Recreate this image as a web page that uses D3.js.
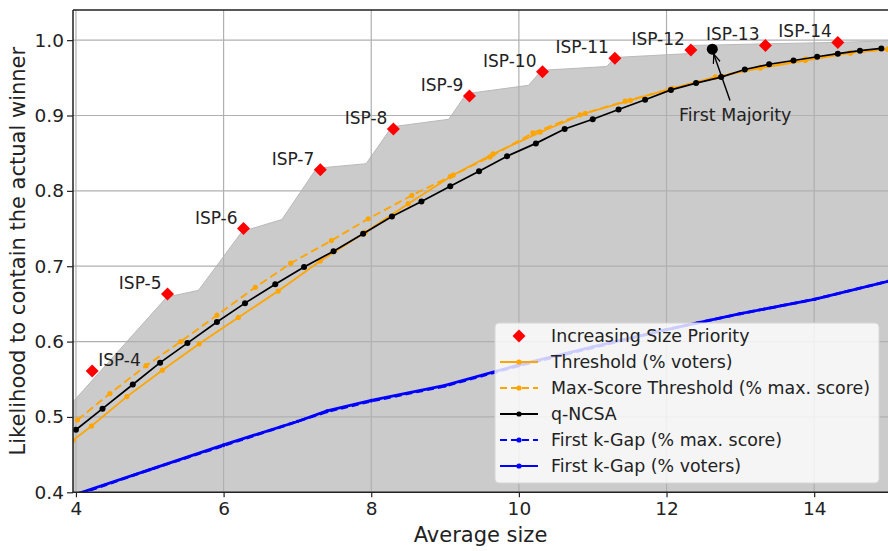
<!DOCTYPE html>
<html>
<head>
<meta charset="utf-8">
<script src="https://cdn.jsdelivr.net/npm/d3@7"></script>
<style>
  body { margin: 0; background: #fff; }
  text { font-family: "DejaVu Sans", sans-serif; fill: #222; }
</style>
</head>
<body>
<div id="wrap"></div>
<script>
// ISP points (red diamonds)
const ispLabels = ["ISP-4", "ISP-5", "ISP-6", "ISP-7", "ISP-8", "ISP-9", "ISP-10", "ISP-11", "ISP-12", "ISP-13", "ISP-14"];
const ispX = [4.22, 5.24, 6.27, 7.31, 8.30, 9.33, 10.32, 11.30, 12.33, 13.34, 14.32];
const ispY = [0.561, 0.663, 0.750, 0.828, 0.882, 0.926, 0.958, 0.976, 0.987, 0.993, 0.997];

// upper edge of the grey area
const bandX = [3.96, 5.23, 5.66, 6.25, 6.79, 7.26, 7.93, 8.28, 9.05, 9.29, 10.13, 10.31, 11.19, 11.30, 12.27, 12.36, 13.30, 14.30, 15.00];
const bandY = [0.520, 0.659, 0.668, 0.746, 0.762, 0.830, 0.836, 0.885, 0.895, 0.929, 0.940, 0.960, 0.965, 0.977, 0.982, 0.993, 0.995, 0.997, 0.999];

// Threshold (% voters)
const thrX = [3.96, 4.21, 4.69, 5.17, 5.67, 6.20, 6.74, 7.31, 7.92, 8.50, 9.11, 9.65, 10.29, 10.90, 11.51, 12.08, 12.66, 13.27, 13.88, 14.49, 15.00];
const thrY = [0.469, 0.488, 0.527, 0.562, 0.597, 0.632, 0.667, 0.707, 0.745, 0.783, 0.821, 0.849, 0.878, 0.903, 0.920, 0.936, 0.951, 0.963, 0.973, 0.983, 0.988];

// Max-Score Threshold (% max. score)
const msX = [4.02, 4.46, 4.95, 5.42, 5.91, 6.43, 6.91, 7.46, 7.96, 8.55, 9.07, 9.61, 10.19, 10.83, 11.44, 12.05, 12.66, 13.27, 13.88, 14.49, 15.00];
const msY = [0.496, 0.531, 0.568, 0.600, 0.635, 0.672, 0.704, 0.734, 0.763, 0.794, 0.819, 0.845, 0.877, 0.901, 0.919, 0.935, 0.951, 0.964, 0.975, 0.983, 0.988];

// q-NCSA
const ncsaX = [4.00, 4.36, 4.77, 5.14, 5.51, 5.91, 6.29, 6.70, 7.09, 7.49, 7.89, 8.28, 8.68, 9.07, 9.46, 9.84, 10.23, 10.62, 11.00, 11.35, 11.71, 12.06, 12.40, 12.74, 13.06, 13.39, 13.72, 14.04, 14.32, 14.62, 14.91];
const ncsaY = [0.483, 0.511, 0.543, 0.572, 0.598, 0.626, 0.651, 0.676, 0.699, 0.720, 0.743, 0.766, 0.786, 0.806, 0.826, 0.846, 0.863, 0.882, 0.895, 0.908, 0.921, 0.934, 0.943, 0.951, 0.961, 0.968, 0.973, 0.978, 0.982, 0.986, 0.989];

// First k-Gap (% max. score) / (% voters)
const gapX = [4.05, 5.00, 6.00, 7.00, 7.40, 8.00, 9.00, 10.00, 11.00, 12.00, 13.00, 14.00, 15.00];
const gapMsY = [0.398, 0.430, 0.462, 0.494, 0.507, 0.521, 0.541, 0.568, 0.592, 0.616, 0.637, 0.656, 0.680];
const gapVY = [0.399, 0.430, 0.463, 0.494, 0.508, 0.522, 0.542, 0.569, 0.593, 0.616, 0.637, 0.656, 0.680];

// First Majority
const majX = 12.62;
const majY = 0.988;

const xTicks = [4, 6, 8, 10, 12, 14];
const yTicks = [0.4, 0.5, 0.6, 0.7, 0.8, 0.9, 1.0];

chart();
function chart(){
  const WIDTH = 888;
  const HEIGHT = 551;
  const LEFT = 73, RIGHT = 888, TOP = 10, BOTTOM = 492.3;

  const svg = d3.select('#wrap')
    .append('svg')
    .attr('width', WIDTH)
    .attr('height', HEIGHT);

  const xScale = d3.scaleLinear().domain([3.96, 15.0]).range([LEFT, RIGHT]);
  const yScale = d3.scaleLinear().domain([0.4, 1.04]).range([BOTTOM, TOP]);

  svg.append('clipPath').attr('id', 'plot')
    .append('rect')
    .attr('x', LEFT).attr('y', TOP)
    .attr('width', RIGHT - LEFT).attr('height', BOTTOM - TOP);

  const plot = svg.append('g').attr('clip-path', 'url(#plot)');

  // grey area
  const band = bandX.map((x, i) => [x, bandY[i]]);
  plot.append('path')
    .attr('d', d3.area().x(d => xScale(d[0])).y0(BOTTOM).y1(d => yScale(d[1]))(band))
    .attr('fill', '#cbcbcb');
  plot.append('path')
    .attr('d', d3.line().x(d => xScale(d[0])).y(d => yScale(d[1]))(band))
    .attr('fill', 'none')
    .attr('stroke', '#b9b9b9')
    .attr('stroke-width', 1);

  // grid
  plot.selectAll('.gx').data(xTicks).enter().append('line')
    .attr('x1', d => xScale(d)).attr('x2', d => xScale(d))
    .attr('y1', TOP).attr('y2', BOTTOM)
    .attr('stroke', '#b0b0b0').attr('stroke-width', 1.2);
  plot.selectAll('.gy').data(yTicks).enter().append('line')
    .attr('x1', LEFT).attr('x2', RIGHT)
    .attr('y1', d => yScale(d)).attr('y2', d => yScale(d))
    .attr('stroke', '#b0b0b0').attr('stroke-width', 1.2);

  // series
  const series = [
    { xs: gapX, ys: gapVY, color: '#0000ff', dash: null, width: 2.8, r: 1.6 },
    { xs: gapX, ys: gapMsY, color: '#0000ff', dash: '7,4', width: 2.8, r: 1.6 },
    { xs: thrX, ys: thrY, color: '#ffa500', dash: null, width: 1.8, r: 2.6 },
    { xs: msX, ys: msY, color: '#ffa500', dash: '8,4', width: 1.9, r: 2.6 },
    { xs: ncsaX, ys: ncsaY, color: '#000000', dash: null, width: 1.7, r: 3 }
  ];
  const line = d3.line().x(d => xScale(d[0])).y(d => yScale(d[1]));
  series.forEach(s => {
    const pts = s.xs.map((x, i) => [x, s.ys[i]]);
    plot.append('path')
      .attr('d', line(pts))
      .attr('fill', 'none')
      .attr('stroke', s.color)
      .attr('stroke-width', s.width)
      .attr('stroke-dasharray', s.dash);
    plot.append('g').selectAll('circle').data(pts).enter().append('circle')
      .attr('cx', d => xScale(d[0])).attr('cy', d => yScale(d[1]))
      .attr('r', s.r).attr('fill', s.color);
  });

  // ISP diamonds and labels
  const isp = ispX.map((x, i) => ({ x: x, y: ispY[i], label: ispLabels[i] }));
  svg.append('g').selectAll('path').data(isp).enter().append('path')
    .attr('d', 'M0,-6.5L6.5,0L0,6.5L-6.5,0Z')
    .attr('transform', d => 'translate(' + xScale(d.x) + ',' + yScale(d.y) + ')')
    .attr('fill', '#ff0000');
  svg.append('g').selectAll('text').data(isp).enter().append('text')
    .attr('x', (d, i) => xScale(d.x) + (i === 0 ? 6 : -6))
    .attr('y', d => yScale(d.y) - 5)
    .attr('text-anchor', (d, i) => i === 0 ? 'start' : 'end')
    .style('font-size', '17px')
    .text(d => d.label);

  // First Majority annotation
  svg.append('defs').append('marker')
    .attr('id', 'arr').attr('viewBox', '0 0 10 10')
    .attr('refX', 10).attr('refY', 5)
    .attr('markerWidth', 9).attr('markerHeight', 9)
    .attr('markerUnits', 'userSpaceOnUse')
    .attr('orient', 'auto')
    .append('path').attr('d', 'M0,1L10,5L0,9')
    .attr('fill', 'none').attr('stroke', '#000').attr('stroke-width', 1.4);
  const mx = xScale(majX), my = yScale(majY);
  svg.append('line')
    .attr('x1', xScale(12.86)).attr('y1', yScale(0.92))
    .attr('x2', mx + 1.5).attr('y2', my + 5)
    .attr('stroke', '#000').attr('stroke-width', 1.4)
    .attr('marker-end', 'url(#arr)');
  svg.append('circle').attr('cx', mx).attr('cy', my).attr('r', 5.5).attr('fill', '#000');
  svg.append('text')
    .attr('x', xScale(12.93)).attr('y', yScale(0.893))
    .attr('text-anchor', 'middle')
    .style('font-size', '17.4px')
    .text('First Majority');

  // axes
  const xAxis = d3.axisBottom(xScale).tickValues(xTicks).tickSize(5).tickPadding(5);
  const yAxis = d3.axisLeft(yScale).tickValues(yTicks).tickSize(6).tickPadding(3).tickFormat(d3.format('.1f'));
  const gx = svg.append('g').attr('transform', 'translate(0,' + BOTTOM + ')').call(xAxis);
  const gy = svg.append('g').attr('transform', 'translate(' + LEFT + ',0)').call(yAxis);
  [gx, gy].forEach(g => {
    g.select('.domain').remove();
    g.selectAll('line').attr('stroke', '#222').attr('stroke-width', 1.2);
    g.selectAll('text').style('font-size', '18.5px').attr('fill', '#222').style('font-family', '"DejaVu Sans", sans-serif');
  });

  // spines
  svg.append('path')
    .attr('d', 'M' + LEFT + ',' + TOP + 'H' + RIGHT + 'M' + LEFT + ',' + TOP + 'V' + BOTTOM + 'H' + RIGHT)
    .attr('fill', 'none').attr('stroke', '#222').attr('stroke-width', 1.5);

  // axis titles
  svg.append('text')
    .attr('x', (LEFT + RIGHT) / 2).attr('y', 542)
    .attr('text-anchor', 'middle')
    .style('font-size', '21px')
    .text('Average size');
  svg.append('text')
    .attr('transform', 'translate(25,' + (TOP + BOTTOM) / 2 + ') rotate(-90)')
    .attr('text-anchor', 'middle')
    .style('font-size', '21px')
    .text('Likelihood to contain the actual winner');

  // legend
  const legend = svg.append('g').attr('transform', 'translate(495,323)');
  legend.append('rect')
    .attr('width', 384).attr('height', 160).attr('rx', 4)
    .attr('fill', '#fff').attr('fill-opacity', 0.8)
    .attr('stroke', '#d6d6d6').attr('stroke-width', 1);
  const items = [
    { name: 'Increasing Size Priority', type: 'diamond', color: '#ff0000' },
    { name: 'Threshold (% voters)', color: '#ffa500', dash: null },
    { name: 'Max-Score Threshold (% max. score)', color: '#ffa500', dash: '7,4' },
    { name: 'q-NCSA', color: '#000000', dash: null },
    { name: 'First k-Gap (% max. score)', color: '#0000ff', dash: '7,4' },
    { name: 'First k-Gap (% voters)', color: '#0000ff', dash: null }
  ];
  items.forEach((it, i) => {
    const row = legend.append('g').attr('transform', 'translate(0,' + (13 + i * 26) + ')');
    if (it.type === 'diamond') {
      row.append('path').attr('d', 'M24,-6.5L30.5,0L24,6.5L17.5,0Z').attr('fill', it.color);
    } else {
      row.append('line').attr('x1', 5).attr('x2', 43).attr('y1', 0).attr('y2', 0)
        .attr('stroke', it.color).attr('stroke-width', 1.8).attr('stroke-dasharray', it.dash);
      row.append('circle').attr('cx', 24).attr('cy', 0).attr('r', 2.6).attr('fill', it.color);
    }
    row.append('text').attr('x', 56).attr('y', 6)
      .style('font-size', '17.4px')
      .text(it.name);
  });
}
</script>
</body>
</html>
